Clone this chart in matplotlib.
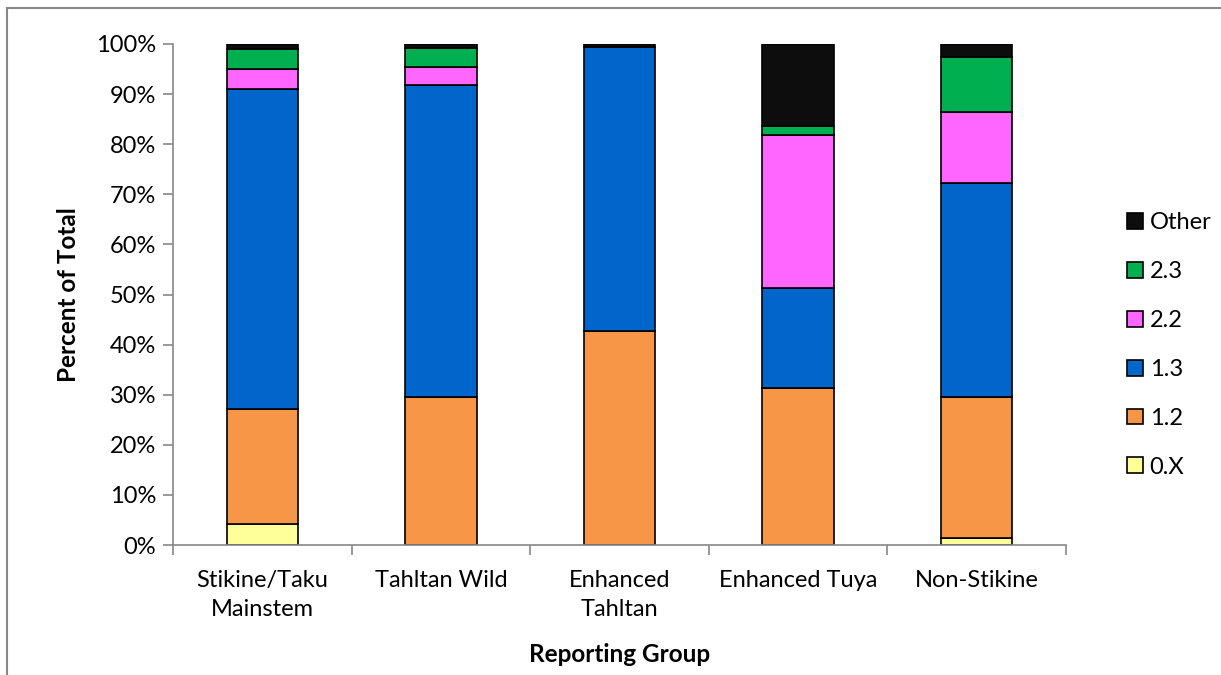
import matplotlib.pyplot as plt
from matplotlib.lines import Line2D
from matplotlib.ticker import FuncFormatter
import numpy as np

# age composition by reporting group (percent of total)
groups = ["Stikine/Taku\nMainstem", "Tahltan Wild", "Enhanced\nTahltan", "Enhanced Tuya", "Non-Stikine"]
age_0x = [4.2, 0.0, 0.0, 0.0, 1.4]
age_12 = [23.0, 29.5, 42.7, 31.3, 28.2]
age_13 = [63.8, 62.3, 56.8, 20.0, 42.7]
age_22 = [4.1, 3.7, 0.0, 30.6, 14.2]
age_23 = [4.0, 3.8, 0.0, 1.75, 10.9]
age_other = [0.9, 0.7, 0.5, 16.35, 2.6]

series = [
    ("0.X", age_0x, "#FFFF99"),
    ("1.2", age_12, "#F79646"),
    ("1.3", age_13, "#0066CC"),
    ("2.2", age_22, "#FF66FF"),
    ("2.3", age_23, "#00B050"),
    ("Other", age_other, "#0D0D0D"),
]

plt.rcParams['font.family'] = ['Lato', 'DejaVu Sans']

fig = plt.figure(figsize=(12.21, 6.75), dpi=100)
ax = fig.add_axes([173 / 1221, 1 - 545 / 675, (1066 - 173) / 1221, (545 - 44) / 675])

x = np.arange(len(groups))
bottom = np.zeros(len(groups))
handles = []
for label, vals, color in series:
    vals = np.array(vals)
    ax.bar(x, vals, width=0.4, bottom=bottom, color=color,
           edgecolor="black", linewidth=1.2, label=label)
    bottom += vals
    handles.append(plt.Rectangle((0, 0), 1, 1, facecolor=color,
                                 edgecolor="black", linewidth=1.2))

ax.set_xlim(-0.5, len(groups) - 0.5)
ax.set_ylim(0, 100)
ax.set_yticks(np.arange(0, 101, 10))
ax.yaxis.set_major_formatter(FuncFormatter(lambda v, p: f"{v:.0f}%"))

ax.set_xticks(x)
ax.set_xticklabels(groups, fontsize=17, linespacing=1.45)
ax.set_xticks(np.arange(-0.5, len(groups)), minor=True)
ax.tick_params(axis="x", which="major", length=0, pad=18)
ax.tick_params(axis="x", which="minor", length=7, color="#888888", width=1.2)
ax.tick_params(axis="y", length=7, color="#888888", width=1.2, labelsize=17, pad=5)

for side in ["top", "right"]:
    ax.spines[side].set_visible(False)
for side in ["left", "bottom"]:
    ax.spines[side].set_color("#888888")
    ax.spines[side].set_linewidth(1.2)

ax.set_ylabel("Percent of Total", fontsize=17.5, fontweight="bold", labelpad=12)
ax.set_xlabel("Reporting Group", fontsize=17.5, fontweight="bold", labelpad=17)

leg = fig.legend(handles[::-1], [s[0] for s in series][::-1],
                 loc="center left", bbox_to_anchor=(1106 / 1221, 1 - 345 / 675),
                 frameon=False, fontsize=17, handlelength=0.65, handleheight=0.65,
                 handletextpad=0.3, labelspacing=1.18)

# outer chart frame
fig.add_artist(Line2D([7 / 1221, 1], [1 - 8 / 675, 1 - 8 / 675], color="#888888", linewidth=1.5))
fig.add_artist(Line2D([7 / 1221, 7 / 1221], [0, 1 - 8 / 675], color="#888888", linewidth=1.5))

fig.savefig("out.png", dpi=100)
